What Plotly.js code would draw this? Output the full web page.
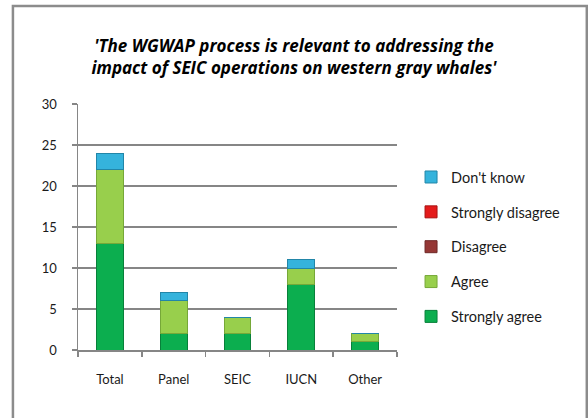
<!DOCTYPE html>
<html>
<head>
<meta charset="utf-8">
<script src="https://cdn.plot.ly/plotly-3.0.1.min.js"></script>
<style>html,body{margin:0;padding:0;background:#fff;}#chart{width:588px;height:418px;}</style>
</head>
<body>
<div id="chart"></div>
<script>
var categories = ["Total", "Panel", "SEIC", "IUCN", "Other"];
var stronglyAgree = [13, 2, 2, 8, 1];
var agree = [9, 4, 2, 2, 1];
var disagree = [0, 0, 0, 0, 0];
var stronglyDisagree = [0, 0, 0, 0, 0];
var dontKnow = [2, 1, 0, 1, 0];
var seriesNames = ["Strongly agree", "Agree", "Disagree", "Strongly disagree", "Don't know"];
var titleText = "<i><b>'The WGWAP process is relevant to addressing the<br>impact of SEIC operations on western gray whales'</b></i>";

var seriesValues = [stronglyAgree, agree, disagree, stronglyDisagree, dontKnow];
var fills = ["#0cae4f", "#98cf4c", "#953735", "#e41b1b", "#35b3dc"];
var edges = ["#08803a", "#76a838", "#6e2726", "#a81212", "#2286a8"];

var traces = seriesValues.map(function (vals, i) {
  return {
    type: "bar",
    name: seriesNames[i],
    x: categories,
    y: vals,
    legendgroup: "g" + i,
    legendrank: 1000 - i,
    marker: {color: fills[i], line: {color: edges[i], width: 1}},
    hoverinfo: "x+y+name"
  };
});

var font = "Lato, 'Open Sans', sans-serif";
var layout = {
  width: 588, height: 418,
  margin: {l: 78, r: 191, t: 104, b: 68},
  paper_bgcolor: "#ffffff", plot_bgcolor: "#ffffff",
  barmode: "stack",
  bargap: 0.58,
  font: {family: font, size: 13, color: "#1a1a1a"},
  title: {
    text: titleText,
    x: 0.5, xanchor: "center",
    y: 0.876, yanchor: "middle", yref: "container",
    font: {family: "'Open Sans', sans-serif", size: 17, color: "#000"}
  },
  xaxis: {
    type: "category",
    showline: true, linecolor: "#868686", linewidth: 1.5,
    ticks: "outside", ticklen: 5, tickcolor: "#868686", tickwidth: 1.5,
    tickson: "boundaries",
    ticklabelstandoff: 17,
    showgrid: false,
    tickfont: {family: font, size: 13, color: "#1a1a1a"}
  },
  yaxis: {
    range: [0, 30], dtick: 5,
    showline: true, linecolor: "#868686", linewidth: 1.5,
    ticks: "outside", ticklen: 5, tickcolor: "#868686", tickwidth: 1.5,
    showgrid: true, gridcolor: "#868686", gridwidth: 1.2,
    zeroline: false,
    ticklabelstandoff: 12,
    tickfont: {family: font, size: 13, color: "#1a1a1a"}
  },
  legend: {
    x: 1.044, xanchor: "left",
    y: 0.768, yanchor: "top",
    traceorder: "grouped",
    tracegroupgap: 13,
    itemwidth: 30,
    font: {family: font, size: 14.5, color: "#1a1a1a"},
    bgcolor: "rgba(0,0,0,0)"
  },
  shapes: [{
    type: "rect", xref: "paper", yref: "paper",
    x0: -0.204, x1: 1.595, y0: -0.29, y1: 1.398,
    line: {color: "#8c8c8c", width: 2.5}, fillcolor: "rgba(0,0,0,0)"
  }]
};

Plotly.newPlot("chart", traces, layout, {displayModeBar: false, staticPlot: true});
</script>
</body>
</html>
